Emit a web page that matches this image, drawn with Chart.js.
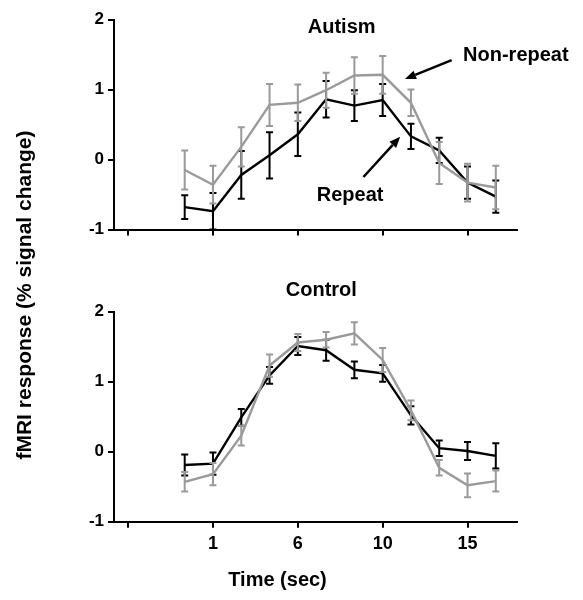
<!DOCTYPE html>
<html>
<head>
<meta charset="utf-8">
<script src="https://cdn.jsdelivr.net/npm/chart.js@4.4.0/dist/chart.umd.min.js"></script>
<style>
  html, body { margin: 0; padding: 0; background: #fff; }
  #Wrap { position: relative; width: 583px; height: 600px; }
  #Wrap canvas { position: absolute; left: 0; top: 0; }
</style>
</head>
<body>
<div id="Wrap">
  <canvas id="Autism__Chart" width="583" height="600"></canvas>
  <canvas id="Control__Chart" width="583" height="600"></canvas>
</div>
<script>
/* time points (scan index) and the x tick labels */
const timePoints = [0, 1, 2, 3, 4, 5, 6, 7, 8, 9, 10, 11];
const tickPositions = [-2, 1, 4, 7, 10];
const tickLabels = ["", "1", "6", "10", "15"];
const yTicks = [-1, 0, 1, 2];

/* Autism group */
const autismRepeat = [-0.68, -0.74, -0.22, 0.06, 0.36, 0.86, 0.77, 0.85, 0.33, 0.13, -0.33, -0.53];
const autismRepeatErr = [0.17, 0.26, 0.34, 0.33, 0.31, 0.26, 0.22, 0.23, 0.18, 0.18, 0.23, 0.23];
const autismNonRepeat = [-0.15, -0.36, 0.18, 0.78, 0.81, 0.99, 1.20, 1.21, 0.81, -0.05, -0.33, -0.40];
const autismNonRepeatErr = [0.28, 0.27, 0.28, 0.30, 0.26, 0.25, 0.26, 0.27, 0.19, 0.30, 0.27, 0.31];

/* Control group */
const controlRepeat = [-0.19, -0.17, 0.49, 1.09, 1.51, 1.45, 1.17, 1.12, 0.52, 0.05, 0.01, -0.06];
const controlRepeatErr = [0.15, 0.16, 0.12, 0.12, 0.13, 0.15, 0.12, 0.12, 0.13, 0.11, 0.13, 0.18];
const controlNonRepeat = [-0.43, -0.32, 0.23, 1.23, 1.56, 1.60, 1.69, 1.31, 0.59, -0.23, -0.48, -0.42];
const controlNonRepeatErr = [0.14, 0.16, 0.14, 0.16, 0.12, 0.11, 0.16, 0.17, 0.14, 0.11, 0.17, 0.15];

const BLACK = "#000000";
const GREY = "#9a9a9a";
const FONT = "'Liberation Sans', Arial, Helvetica, sans-serif";

/* Turns a value list into {x,y} points */
function toPoints(values) {
  return timePoints.map((t, i) => ({ x: t, y: values[i] }));
}

/* Plugin that draws the SEM error bars for each line */
const errorBarPlugin = {
  id: "errorBars",
  afterDatasetDraw(chart, args) {
    const ds = chart.data.datasets[args.index];
    if (!ds.errorBars) return;
    const ctx = chart.ctx;
    const xs = chart.scales.x, ys = chart.scales.y;
    ctx.save();
    ctx.strokeStyle = ds.borderColor;
    ctx.lineWidth = 2;
    ds.data.forEach((p, i) => {
      const px = xs.getPixelForValue(p.x);
      const top = ys.getPixelForValue(p.y + ds.errorBars[i]);
      const bot = ys.getPixelForValue(p.y - ds.errorBars[i]);
      ctx.beginPath();
      ctx.moveTo(px, top); ctx.lineTo(px, bot);
      ctx.moveTo(px - 3.5, top); ctx.lineTo(px + 3.5, top);
      ctx.moveTo(px - 3.5, bot); ctx.lineTo(px + 3.5, bot);
      ctx.stroke();
    });
    ctx.restore();
  }
};

/* Plugin for titles, labels and arrows (positions in data units) */
const notesPlugin = {
  id: "notes",
  afterDraw(chart, args, opts) {
    const ctx = chart.ctx;
    const xs = chart.scales.x, ys = chart.scales.y;
    ctx.save();
    ctx.fillStyle = BLACK;
    ctx.strokeStyle = BLACK;
    ctx.textAlign = "center";
    ctx.textBaseline = "middle";
    (opts.texts || []).forEach(t => {
      ctx.font = "bold " + t.size + "px " + FONT;
      ctx.fillText(t.text, xs.getPixelForValue(t.x), ys.getPixelForValue(t.y));
    });
    (opts.arrows || []).forEach(a => {
      const x1 = xs.getPixelForValue(a.from[0]), y1 = ys.getPixelForValue(a.from[1]);
      const x2 = xs.getPixelForValue(a.to[0]), y2 = ys.getPixelForValue(a.to[1]);
      const ang = Math.atan2(y2 - y1, x2 - x1);
      const len = 11, half = 4.5;
      const bx = x2 - len * Math.cos(ang), by = y2 - len * Math.sin(ang);
      ctx.lineWidth = 2.5;
      ctx.beginPath();
      ctx.moveTo(x1, y1); ctx.lineTo(bx, by);
      ctx.stroke();
      ctx.beginPath();
      ctx.moveTo(x2, y2);
      ctx.lineTo(bx + half * Math.sin(ang), by - half * Math.cos(ang));
      ctx.lineTo(bx - half * Math.sin(ang), by + half * Math.cos(ang));
      ctx.closePath();
      ctx.fill();
    });
    if (opts.axisTitles) {
      ctx.font = "bold 20px " + FONT;
      ctx.fillText("Time (sec)", 277.5, 580);
      ctx.save();
      ctx.translate(25, 295);
      ctx.rotate(-Math.PI / 2);
      ctx.font = "bold 21px " + FONT;
      ctx.fillText("fMRI response (% signal change)", 0, 0);
      ctx.restore();
    }
    ctx.restore();
  }
};

/* Builds the scale options for one panel */
function makeScales(showXLabels, xHeight) {
  const axisGrid = { display: true, drawOnChartArea: false, drawTicks: true, tickLength: 6, color: BLACK, lineWidth: 2 };
  const axisBorder = { display: true, color: BLACK, width: 2 };
  return {
    x: {
      type: "linear",
      min: -2.5,
      max: 11.75,
      afterBuildTicks: s => { s.ticks = tickPositions.map(v => ({ value: v })); },
      afterFit: s => { s.height = xHeight; },
      grid: axisGrid,
      border: axisBorder,
      ticks: {
        display: showXLabels,
        autoSkip: false,
        maxRotation: 0,
        color: BLACK,
        padding: 6,
        font: { family: FONT, size: 18, weight: "bold" },
        callback: v => tickLabels[tickPositions.indexOf(v)]
      }
    },
    y: {
      type: "linear",
      min: -1,
      max: 2,
      afterBuildTicks: s => { s.ticks = yTicks.map(v => ({ value: v })); },
      afterFit: s => { s.width = 114; },
      grid: axisGrid,
      border: axisBorder,
      ticks: {
        color: BLACK,
        padding: 4,
        font: { family: FONT, size: 17, weight: "bold" },
        callback: v => String(v)
      }
    }
  };
}

/* Creates one panel chart */
function CreatePanel(canvasId, nonRepeat, nonRepeatErr, repeat, repeatErr, padding, showXLabels, xHeight, notes) {
  return new Chart(document.getElementById(canvasId), {
    type: "line",
    plugins: [errorBarPlugin, notesPlugin],
    data: {
      datasets: [
        { label: "Non-repeat", data: toPoints(nonRepeat), errorBars: nonRepeatErr, borderColor: GREY, borderWidth: 2.4, pointRadius: 0, tension: 0, clip: false },
        { label: "Repeat", data: toPoints(repeat), errorBars: repeatErr, borderColor: BLACK, borderWidth: 2.4, pointRadius: 0, tension: 0, clip: false }
      ]
    },
    options: {
      responsive: false,
      animation: false,
      layout: { padding: padding },
      scales: makeScales(showXLabels, xHeight),
      plugins: {
        legend: { display: false },
        tooltip: { enabled: false },
        notes: notes
      }
    }
  });
}

CreatePanel("Autism__Chart", autismNonRepeat, autismNonRepeatErr, autismRepeat, autismRepeatErr,
  { top: 19.5, left: 0, right: 66, bottom: 359.5 }, false, 11,
  {
    texts: [
      { text: "Autism", x: 5.55, y: 1.89, size: 20 },
      { text: "Non-repeat", x: 11.71, y: 1.49, size: 20 },
      { text: "Repeat", x: 5.85, y: -0.51, size: 20 }
    ],
    arrows: [
      { from: [9.44, 1.42], to: [7.79, 1.15] },
      { from: [6.32, -0.25], to: [7.62, 0.325] }
    ]
  });

CreatePanel("Control__Chart", controlNonRepeat, controlNonRepeatErr, controlRepeat, controlRepeatErr,
  { top: 311.7, left: 0, right: 66, bottom: 0 }, true, 78.3,
  {
    texts: [{ text: "Control", x: 4.83, y: 2.31, size: 20 }],
    axisTitles: true
  });
</script>
</body>
</html>
